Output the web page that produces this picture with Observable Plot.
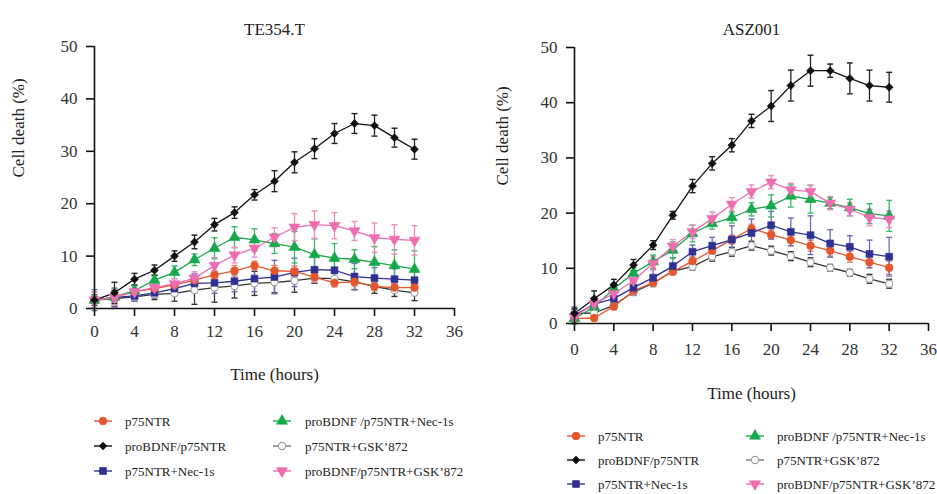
<!DOCTYPE html>
<html><head><meta charset="utf-8">
<script src="https://cdn.jsdelivr.net/npm/d3@7"></script>
<script src="https://cdn.jsdelivr.net/npm/@observablehq/plot@0.6"></script>
<style>
body{margin:0;background:#fff;}
#wrap{position:relative;width:937px;height:494px;overflow:hidden;font-family:"Liberation Serif","Times New Roman","DejaVu Serif",serif;background:#fff;}
.panel{position:absolute;top:0;}
.panel svg{overflow:visible;}
#wrap svg, #wrap svg text{font-family:"Liberation Serif","Times New Roman","DejaVu Serif",serif !important;}
</style></head><body><div id="wrap"></div>
<script>
// ---- data ----
const hours = [0,2,4,6,8,10,12,14,16,18,20,22,24,26,28,30,32];
const xTicks = [0,4,8,12,16,20,24,28,32,36];
const yTicks = [0,10,20,30,40,50];
const seriesNames = ["p75NTR","proBDNF/p75NTR","p75NTR+Nec-1s","proBDNF /p75NTR+Nec-1s","p75NTR+GSK\u2019872","proBDNF/p75NTR+GSK\u2019872"];
const panelTitles = ["TE354.T","ASZ001"];

// TE354.T
const te_p75      = [1.6,2.1,3.2,3.8,4.5,5.4,6.4,7.2,8.2,7.2,7.1,6.0,4.9,5.1,4.2,4.0,4.0];
const te_p75_err  = [0.5,0.8,0.6,0.6,0.6,0.8,0.8,1.0,0.8,1.0,1.0,1.0,0.8,0.8,0.8,0.8,0.8];
const te_pro      = [1.6,3.0,5.6,7.3,10.0,12.7,16.0,18.3,21.7,24.3,27.9,30.5,33.4,35.3,34.9,32.6,30.4];
const te_pro_err  = [0.5,2.0,1.1,1.0,1.0,1.3,1.2,1.1,1.0,2.0,2.0,1.9,1.9,1.9,2.0,1.8,1.9];
const te_nec      = [1.6,2.1,2.4,3.0,3.8,4.8,4.9,5.2,5.7,6.0,6.9,7.4,7.3,6.1,5.8,5.6,5.4];
const te_nec_err  = [2.0,1.8,1.0,1.0,1.2,1.8,2.0,2.0,2.5,3.2,2.7,2.5,2.5,2.5,2.0,2.0,2.0];
const te_proNec     = [1.6,2.2,3.4,5.4,6.9,9.3,11.5,13.6,13.1,12.4,11.7,10.3,9.6,9.4,8.8,8.2,7.5];
const te_proNec_err = [1.5,1.5,1.0,1.0,1.2,1.1,2.0,2.0,2.1,1.9,3.0,3.0,2.8,1.8,3.0,3.0,3.5];
const te_gsk      = [1.6,1.9,2.2,2.7,2.9,3.5,4.0,4.3,4.8,5.0,5.3,5.8,5.7,5.1,4.2,3.5,3.0];
const te_gsk_err  = [1.0,1.5,0.8,1.0,1.5,2.7,2.8,2.3,2.3,2.0,2.2,1.0,1.0,1.5,1.3,1.2,1.5];
const te_proGsk     = [1.6,2.1,3.2,4.0,4.7,5.8,8.2,10.2,11.5,13.6,15.5,16.0,15.8,14.8,13.5,13.2,13.0];
const te_proGsk_err = [1.5,1.5,1.0,1.0,1.0,1.2,1.5,1.5,1.7,1.8,2.6,2.6,2.5,1.8,2.8,2.8,2.8];

// ASZ001
const as_p75      = [0.9,1.0,3.1,5.9,7.4,9.4,11.3,13.2,15.2,17.2,16.1,15.1,14.1,13.2,12.1,11.1,10.1];
const as_p75_err  = [0.8,0.5,0.6,0.6,0.6,0.6,0.8,0.8,0.8,0.8,0.8,1.0,1.0,1.0,1.0,1.0,1.2];
const as_pro      = [1.8,4.5,7.0,10.6,14.2,19.6,24.9,29.0,32.3,36.7,39.4,43.1,45.8,45.8,44.4,43.1,42.8];
const as_pro_err  = [0.8,1.4,1.0,1.0,0.8,0.7,1.2,1.2,1.2,1.2,2.8,2.8,2.8,1.2,2.8,2.8,2.7];
const as_nec      = [1.5,3.5,4.5,6.5,8.3,10.4,13.0,14.1,15.2,16.4,17.8,16.6,16.0,14.5,13.9,12.6,12.1];
const as_nec_err  = [1.5,1.2,1.0,1.0,1.5,1.5,1.2,1.5,2.5,2.5,2.5,2.5,3.5,2.5,2.0,2.5,3.5];
const as_proNec     = [0.9,3.0,6.3,9.1,11.2,13.3,16.3,18.1,19.2,20.7,21.3,23.1,22.5,21.8,21.0,19.9,19.5];
const as_proNec_err = [1.0,1.0,1.0,1.0,1.2,1.5,1.5,1.0,1.0,1.2,2.0,2.0,2.5,1.0,1.5,1.8,2.8];
const as_gsk      = [1.8,1.9,3.3,5.7,7.3,9.5,10.3,12.1,13.0,14.1,13.2,12.2,11.1,10.1,9.2,8.1,7.2];
const as_gsk_err  = [1.0,0.8,0.6,0.6,0.6,0.6,0.6,0.8,0.8,0.8,0.8,0.8,0.8,0.6,0.6,0.8,0.8];
const as_proGsk     = [1.2,3.6,5.4,7.8,10.9,14.0,16.6,19.0,21.6,23.9,25.6,24.2,23.9,21.8,20.7,19.2,18.9];
const as_proGsk_err = [1.0,1.0,1.0,1.2,1.2,1.2,1.2,1.2,1.2,1.2,1.2,1.2,1.2,1.2,1.2,1.5,1.5];

// ---- styles ----
const styles = [
  {line:"#E4572E", err:"#EC8262", fill:"#E4572E", stroke:"#E4572E", symbol:"circle",   r:3.9, rotate:0},
  {line:"#111111", err:"#222222", fill:"#111111", stroke:"#111111", symbol:"diamond2", r:3.6, rotate:0},
  {line:"#2E3192", err:"#6A6DBA", fill:"#2E3192", stroke:"#2E3192", symbol:"square",   r:3.9, rotate:0},
  {line:"#17A84B", err:"#3CB866", fill:"#17A84B", stroke:"#17A84B", symbol:"triangle", r:4.1, rotate:0},
  {line:"#333333", err:"#333333", fill:"#ffffff", stroke:"#9C9CA8", symbol:"circle",   r:3.6, rotate:0, legendLine:"#777"},
  {line:"#EE6DB1", err:"#F08CC2", fill:"#EE6DB1", stroke:"#EE6DB1", symbol:"triangle", r:4.1, rotate:180}
];

function rows(vals, errs){ return hours.map((h,i)=>({x:h, y:vals[i], e:errs[i]})); }

const panels = [
  {title: panelTitles[0], left:0, width:470, height:400, ml:94, mr:16, mt:46, mb:92, xlab:71, ylab:-76, tdy:-24,
   series:[rows(te_p75,te_p75_err),rows(te_pro,te_pro_err),rows(te_nec,te_nec_err),rows(te_proNec,te_proNec_err),rows(te_gsk,te_gsk_err),rows(te_proGsk,te_proGsk_err)],
   order:[4,2,0,3,5,1]},
  {title: panelTitles[1], left:470, width:467, height:420, ml:104, mr:9, mt:47, mb:97, xlab:75, ylab:-72, tdy:-25, pad:11,
   series:[rows(as_p75,as_p75_err),rows(as_pro,as_pro_err),rows(as_nec,as_nec_err),rows(as_proNec,as_proNec_err),rows(as_gsk,as_gsk_err),rows(as_proGsk,as_proGsk_err)],
   order:[4,0,2,3,5,1]}
];

const wrap = document.getElementById("wrap");
const font = '"Liberation Serif", "Times New Roman", "DejaVu Serif", serif';

for (const p of panels) {
  const marks = [];
  for (const k of p.order) {
    const s = styles[k], d = p.series[k];
    marks.push(Plot.ruleX(d, {x:"x", y1:q=>q.y-q.e, y2:q=>q.y+q.e, stroke:s.err, strokeWidth:1.3}));
    marks.push(Plot.link(d, {x1:q=>q.x-0.3, x2:q=>q.x+0.3, y1:q=>q.y+q.e, y2:q=>q.y+q.e, stroke:s.err, strokeWidth:1.4}));
    marks.push(Plot.link(d, {x1:q=>q.x-0.3, x2:q=>q.x+0.3, y1:q=>q.y-q.e, y2:q=>q.y-q.e, stroke:s.err, strokeWidth:1.4}));
  }
  for (const k of p.order) {
    const s = styles[k], d = p.series[k];
    marks.push(Plot.line(d, {x:"x", y:"y", stroke:s.line, strokeWidth:1.3}));
  }
  for (const k of p.order) {
    const s = styles[k], d = p.series[k];
    marks.push(Plot.dot(d, {x:"x", y:"y", symbol:()=>s.symbol, r:s.r, fill:s.fill, stroke:s.stroke, strokeWidth: k===4?1.1:0.6, rotate:s.rotate}));
  }
  marks.push(Plot.ruleY([0], {stroke:"#111", strokeWidth:1.6}));
  marks.push(Plot.ruleX([0], {stroke:"#111", strokeWidth:1.6}));
  marks.push(Plot.axisX({ticks:xTicks, tickSize:8, tickPadding:p.pad||8, label:null, stroke:"#111", strokeWidth:1.6, fontSize:17, fill:"#333", fontFamily:font}));
  marks.push(Plot.axisY({ticks:yTicks, tickSize:8, tickPadding:9, label:null, stroke:"#111", strokeWidth:1.6, fontSize:17, fill:"#333", fontFamily:font}));
  marks.push(Plot.text([p.title], {text:d=>d, frameAnchor:"top", dy:p.tdy, fontSize:17, fill:"#222", fontFamily:font}));
  marks.push(Plot.text(["Time (hours)"], {text:d=>d, frameAnchor:"bottom", dy:p.xlab, fontSize:17, fill:"#222", fontFamily:font}));
  marks.push(Plot.text(["Cell death (%)"], {text:d=>d, frameAnchor:"left", dx:p.ylab, rotate:-90, fontSize:17, fill:"#222", fontFamily:font}));

  const chart = Plot.plot({
    width:p.width, height:p.height,
    marginLeft:p.ml, marginRight:p.mr, marginTop:p.mt, marginBottom:p.mb,
    style:{fontFamily:font, fontSize:"17px", background:"transparent", overflow:"visible"},
    x:{domain:[0,36], axis:null},
    y:{domain:[0,50], axis:null},
    marks
  });
  const div = document.createElement("div");
  div.className = "panel";
  div.style.left = p.left + "px";
  div.appendChild(chart);
  wrap.appendChild(div);
}

// ---- legends ----
const symbolMap = {circle:d3.symbolCircle, diamond2:d3.symbolDiamond2, square:d3.symbolSquare, triangle:d3.symbolTriangle};
const legends = [
  {cols:[103,282], texts:[125,305], rows:[421,446,471]},
  {cols:[576,755], texts:[598,777], rows:[436,460,484]}
];
const svg = d3.select(wrap).append("svg")
  .attr("width",937).attr("height",494)
  .style("position","absolute").style("left",0).style("top",0).style("pointer-events","none");
for (const L of legends) {
  seriesNames.forEach((name,i)=>{
    const c = Math.floor(i/3), r = i%3;
    const s = styles[i];
    const cx = L.cols[c], cy = L.rows[r];
    const g = svg.append("g");
    g.append("line").attr("x1",cx-9).attr("x2",cx+9).attr("y1",cy).attr("y2",cy)
      .attr("stroke", s.legendLine || s.line).attr("stroke-width",1.4);
    g.append("path").attr("d", d3.symbol(symbolMap[s.symbol], Math.PI*s.r*s.r)())
      .attr("transform",`translate(${cx},${cy}) rotate(${s.rotate})`)
      .attr("fill",s.fill).attr("stroke",s.stroke).attr("stroke-width", i===4?1.1:0.6);
    g.append("text").attr("x",L.texts[c]).attr("y",cy).attr("dy","0.35em")
      .style("font-family",font).attr("font-size",13).attr("fill","#222").text(name);
  });
}
</script>
</body></html>
